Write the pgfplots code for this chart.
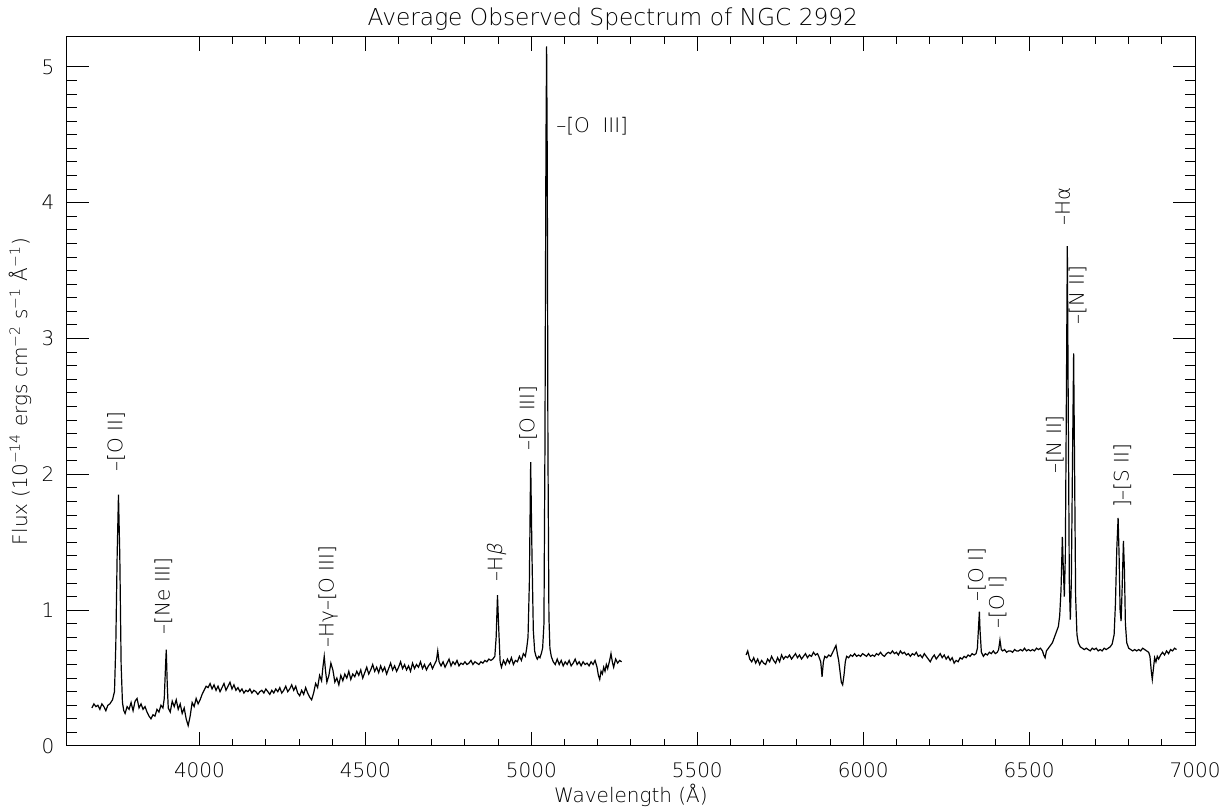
\documentclass[border=0pt]{standalone}
\usepackage{fontspec}
\setmainfont{DejaVu Sans ExtraLight}
\newfontfamily\obl{DejaVu Sans ExtraLight}[FakeSlant=0.2]
\usepackage{pgfplots}
\pgfplotsset{compat=1.18}
\begin{document}
\begin{tikzpicture}[font=\fontsize{10pt}{12pt}\selectfont]
\useasboundingbox (-33.35pt,-31pt) rectangle (579.65pt,373pt);
\begin{axis}[
  at={(0,0)}, anchor=south west,
  scale only axis,
  width=564.2pt, height=354.5pt,
  xmin=3600, xmax=7000, ymin=0, ymax=5.22,
  axis line style={black, line width=0.5pt},
  tick align=inside, tick pos=both,
  xtick={4000,4500,5000,5500,6000,6500,7000},
  xticklabels={4000,4500,5000,5500,6000,6500,7000},
  minor x tick num=4,
  ytick={0,1,2,3,4,5},
  yticklabels={0,1,2,3,4,5},
  minor y tick num=9,
  xtick style={black, line width=0.5pt, /pgfplots/major tick length=7pt, /pgfplots/minor tick length=3.4pt},
  ytick style={black, line width=0.5pt, /pgfplots/major tick length=11pt, /pgfplots/minor tick length=5.3pt},
  xticklabel style={anchor=base, yshift=-15.7pt, inner sep=0pt},
  yticklabel style={anchor=east, xshift=-6pt, inner sep=0pt},
  title={Average Observed Spectrum of NGC 2992},
  title style={at={(axis description cs:0.5,1)}, anchor=base, yshift=-0.5pt, xshift=-9pt, font=\fontsize{11.65pt}{14pt}\selectfont},
  xlabel={Wavelength (Å)},
  xlabel style={at={(axis description cs:0.5,0)}, anchor=base, yshift=-28.5pt},
  ylabel={Flux (10\textsuperscript{−14} ergs cm\textsuperscript{−2} s\textsuperscript{−1} Å\textsuperscript{−1})},
  ylabel style={at={(axis description cs:-0.0413,0.5)}, anchor=center},
  clip=false,
]
\addplot[black, line width=0.6pt] table {
3676 0.28
3682 0.31
3688 0.29
3694 0.30
3700 0.27
3706 0.31
3712 0.29
3718 0.26
3724 0.30
3730 0.31
3738 0.34
3744 0.40
3748 0.75
3752 1.40
3756 1.85
3760 1.40
3764 0.60
3768 0.32
3772 0.26
3776 0.24
3782 0.29
3788 0.27
3794 0.32
3800 0.26
3806 0.33
3812 0.35
3818 0.28
3824 0.31
3830 0.27
3836 0.29
3842 0.25
3848 0.22
3854 0.20
3860 0.23
3866 0.22
3872 0.27
3878 0.25
3884 0.30
3890 0.28
3894 0.35
3898 0.60
3900 0.71
3903 0.45
3906 0.28
3912 0.25
3918 0.33
3924 0.29
3930 0.34
3936 0.27
3942 0.31
3948 0.24
3954 0.28
3960 0.20
3966 0.15
3972 0.22
3978 0.32
3984 0.29
3990 0.35
3996 0.31
4002 0.34
4008 0.38
4014 0.41
4020 0.44
4026 0.43
4032 0.46
4038 0.42
4044 0.45
4050 0.41
4056 0.44
4062 0.40
4068 0.43
4074 0.46
4080 0.41
4086 0.44
4092 0.47
4098 0.42
4104 0.45
4110 0.41
4116 0.43
4122 0.40
4128 0.42
4134 0.39
4140 0.41
4146 0.40
4152 0.42
4158 0.39
4164 0.41
4170 0.40
4176 0.38
4182 0.40
4188 0.41
4194 0.39
4200 0.42
4206 0.40
4212 0.38
4218 0.41
4224 0.39
4230 0.42
4236 0.40
4242 0.43
4248 0.39
4254 0.41
4260 0.44
4266 0.40
4272 0.42
4278 0.45
4284 0.41
4290 0.44
4296 0.39
4302 0.37
4308 0.41
4314 0.38
4320 0.43
4326 0.39
4332 0.36
4338 0.34
4344 0.39
4350 0.46
4356 0.43
4362 0.52
4368 0.48
4372 0.58
4376 0.66
4380 0.55
4384 0.47
4390 0.52
4396 0.61
4402 0.56
4408 0.47
4414 0.50
4420 0.45
4426 0.52
4432 0.48
4438 0.53
4444 0.50
4450 0.55
4456 0.49
4462 0.53
4468 0.51
4474 0.55
4480 0.52
4486 0.56
4492 0.50
4498 0.54
4504 0.58
4510 0.53
4516 0.56
4522 0.60
4528 0.55
4534 0.58
4540 0.54
4546 0.59
4552 0.55
4558 0.58
4564 0.53
4570 0.57
4576 0.61
4582 0.56
4588 0.59
4594 0.55
4600 0.58
4606 0.62
4612 0.57
4618 0.60
4624 0.56
4630 0.59
4636 0.55
4642 0.61
4648 0.57
4654 0.60
4660 0.58
4666 0.62
4672 0.57
4678 0.60
4684 0.56
4690 0.59
4696 0.61
4702 0.57
4708 0.60
4714 0.63
4718 0.70
4722 0.62
4728 0.59
4734 0.62
4740 0.58
4746 0.61
4752 0.64
4758 0.59
4764 0.62
4770 0.60
4776 0.63
4782 0.59
4788 0.61
4794 0.60
4800 0.62
4806 0.60
4812 0.61
4818 0.63
4824 0.60
4830 0.62
4836 0.61
4842 0.60
4848 0.62
4854 0.61
4860 0.63
4866 0.62
4872 0.64
4878 0.63
4884 0.64
4890 0.66
4894 0.80
4898 1.11
4902 0.85
4906 0.62
4910 0.58
4916 0.63
4922 0.60
4928 0.64
4934 0.61
4940 0.65
4946 0.60
4952 0.63
4958 0.62
4964 0.66
4970 0.63
4976 0.68
4982 0.66
4986 0.72
4990 0.80
4994 1.20
4998 2.09
5002 1.40
5006 0.85
5010 0.70
5014 0.66
5018 0.64
5022 0.66
5026 0.65
5030 0.68
5034 0.72
5038 0.90
5041 2.20
5044 4.40
5046 5.15
5048 4.30
5050 2.20
5053 0.95
5056 0.72
5060 0.66
5066 0.62
5072 0.60
5078 0.64
5084 0.60
5090 0.63
5096 0.59
5102 0.62
5108 0.60
5114 0.63
5120 0.59
5126 0.61
5132 0.64
5138 0.60
5144 0.62
5150 0.59
5156 0.62
5162 0.60
5168 0.61
5174 0.59
5180 0.62
5186 0.60
5192 0.63
5198 0.58
5202 0.52
5206 0.49
5210 0.55
5214 0.53
5218 0.58
5222 0.55
5226 0.60
5230 0.57
5236 0.63
5240 0.68
5244 0.62
5248 0.58
5254 0.64
5260 0.61
5266 0.63
5272 0.62
};
\addplot[black, line width=0.6pt] table {
5647 0.67
5652 0.70
5658 0.64
5664 0.62
5670 0.65
5676 0.61
5682 0.64
5688 0.60
5694 0.63
5700 0.61
5706 0.60
5712 0.64
5718 0.62
5724 0.66
5730 0.63
5736 0.61
5742 0.65
5748 0.62
5754 0.67
5760 0.64
5766 0.66
5772 0.65
5778 0.67
5784 0.64
5790 0.66
5796 0.68
5802 0.65
5808 0.67
5814 0.64
5820 0.66
5826 0.68
5832 0.65
5838 0.67
5844 0.66
5850 0.69
5856 0.67
5862 0.68
5866 0.66
5872 0.62
5876 0.51
5880 0.62
5884 0.66
5890 0.65
5896 0.67
5902 0.66
5908 0.69
5914 0.72
5918 0.74
5922 0.68
5926 0.63
5930 0.55
5934 0.47
5938 0.45
5942 0.52
5946 0.62
5950 0.66
5956 0.65
5962 0.67
5968 0.66
5974 0.68
5980 0.66
5986 0.67
5992 0.66
5998 0.68
6004 0.67
6010 0.66
6016 0.68
6022 0.66
6028 0.67
6034 0.66
6040 0.68
6046 0.67
6052 0.69
6058 0.67
6064 0.66
6070 0.68
6076 0.69
6082 0.68
6088 0.70
6094 0.68
6100 0.69
6106 0.67
6112 0.70
6118 0.68
6124 0.69
6130 0.67
6136 0.68
6142 0.66
6148 0.68
6154 0.67
6160 0.69
6166 0.66
6172 0.67
6178 0.65
6184 0.68
6190 0.66
6196 0.64
6202 0.62
6208 0.65
6214 0.67
6220 0.64
6226 0.66
6232 0.68
6238 0.65
6244 0.67
6250 0.64
6256 0.66
6262 0.63
6268 0.65
6274 0.61
6280 0.63
6286 0.62
6292 0.65
6298 0.64
6304 0.66
6310 0.65
6316 0.67
6322 0.66
6328 0.68
6334 0.67
6340 0.68
6344 0.72
6348 0.90
6350 0.99
6352 0.85
6356 0.69
6362 0.66
6368 0.68
6374 0.67
6380 0.69
6386 0.68
6392 0.70
6398 0.68
6404 0.69
6408 0.71
6412 0.78
6416 0.71
6420 0.70
6426 0.71
6432 0.69
6438 0.70
6444 0.70
6450 0.69
6456 0.71
6462 0.70
6468 0.70
6474 0.71
6480 0.70
6486 0.72
6492 0.70
6498 0.71
6504 0.70
6510 0.71
6516 0.70
6522 0.72
6528 0.71
6534 0.72
6540 0.70
6544 0.67
6548 0.65
6552 0.70
6558 0.72
6564 0.74
6570 0.76
6576 0.80
6582 0.84
6588 0.88
6592 0.96
6596 1.15
6600 1.54
6603 1.30
6606 1.10
6609 1.40
6612 2.50
6615 3.68
6618 2.40
6621 1.20
6624 0.93
6627 1.20
6631 2.20
6634 2.89
6637 2.00
6640 1.10
6644 0.82
6648 0.76
6654 0.73
6660 0.72
6666 0.71
6672 0.72
6678 0.71
6684 0.70
6690 0.72
6696 0.71
6702 0.72
6708 0.70
6714 0.71
6720 0.70
6726 0.72
6732 0.71
6738 0.72
6744 0.73
6750 0.75
6756 0.82
6760 1.05
6764 1.45
6768 1.68
6771 1.40
6774 1.00
6777 0.92
6780 1.15
6784 1.51
6787 1.30
6790 0.90
6794 0.76
6800 0.72
6806 0.71
6812 0.70
6818 0.71
6824 0.70
6830 0.71
6836 0.70
6842 0.72
6848 0.71
6854 0.70
6860 0.69
6864 0.66
6868 0.55
6871 0.49
6874 0.56
6878 0.65
6882 0.62
6886 0.66
6890 0.64
6896 0.67
6902 0.69
6908 0.67
6914 0.70
6920 0.68
6926 0.71
6932 0.70
6938 0.72
6944 0.71
};
\node[rotate=90, anchor=west, inner sep=0pt] at (axis cs:3749,2.02) {–[O II]};
\node[rotate=90, anchor=west, inner sep=0pt] at (axis cs:3891,0.82) {–[Ne III]};
\node[rotate=90, anchor=west, inner sep=0pt] at (axis cs:4388,0.72) {–Hγ–[O III]};
\node[rotate=90, anchor=west, inner sep=0pt] at (axis cs:4896,1.21) {–H{\obl β}};
\node[rotate=90, anchor=west, inner sep=0pt] at (axis cs:4990,2.17) {–[O III]};
\node[anchor=west, inner sep=0pt] at (axis cs:5074,4.56) {–[O~ III]};
\node[rotate=90, anchor=west, inner sep=0pt] at (axis cs:6342,1.06) {–[O I]};
\node[rotate=90, anchor=west, inner sep=0pt] at (axis cs:6405,0.86) {–[O I]};
\node[rotate=90, anchor=west, inner sep=0pt] at (axis cs:6577,2.00) {–[N II]};
\node[rotate=90, anchor=west, inner sep=0pt] at (axis cs:6601,3.83) {–Hα};
\node[rotate=90, anchor=west, inner sep=0pt] at (axis cs:6646,3.10) {–[N II]};
\node[rotate=90, anchor=west, inner sep=0pt] at (axis cs:6781,1.75) {]–[S II]};
\end{axis}
\end{tikzpicture}
\end{document}
